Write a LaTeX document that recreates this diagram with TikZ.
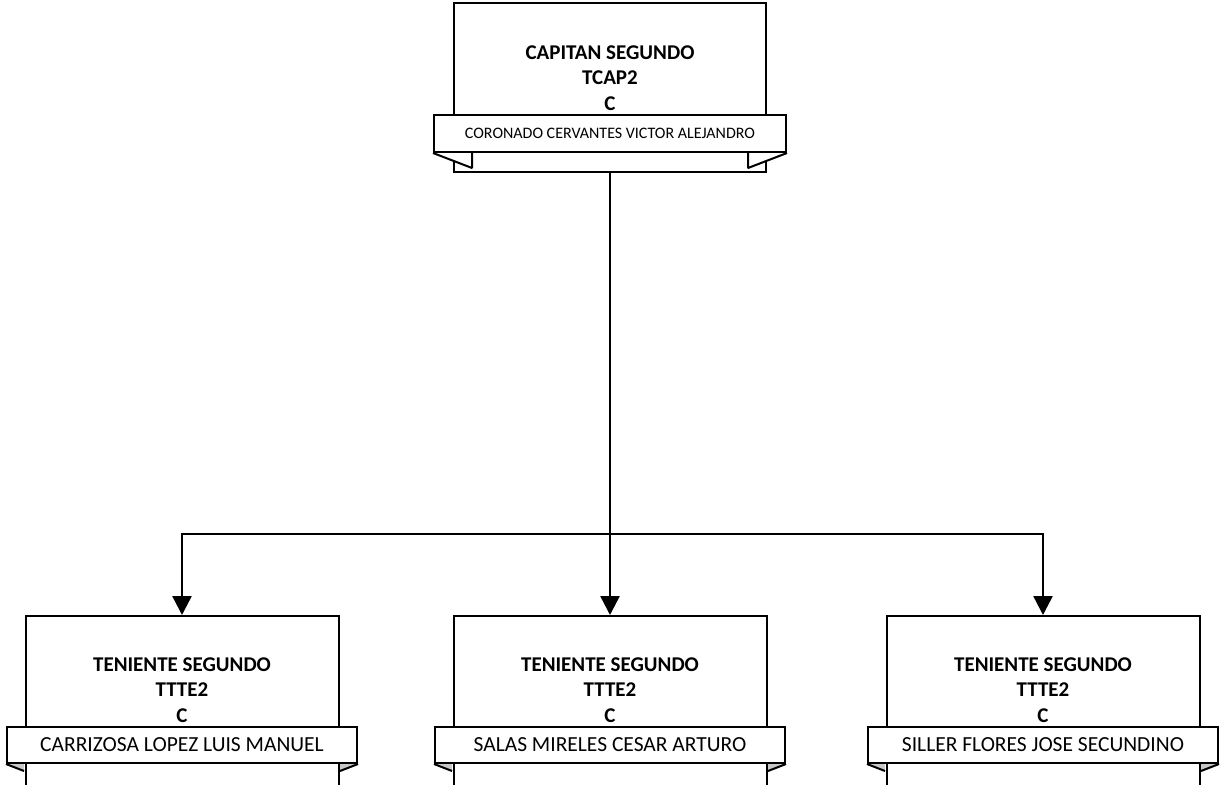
\documentclass[tikz,border=0pt]{standalone}
\usepackage{fontspec}
\setmainfont{Carlito}
\usetikzlibrary{arrows.meta}
\definecolor{foldgray}{HTML}{C8C8C8}
\begin{document}
\begin{tikzpicture}[x=1pt,y=-1pt,
  box/.style={draw, line width=2pt, fill=white, inner sep=0pt},
  banner/.style={draw, line width=2pt, fill=white, inner sep=0pt},
  title/.style={font=\bfseries\fontsize{21}{25.5}\selectfont, align=center, inner sep=0pt},
  topname/.style={font=\fontsize{16}{19}\selectfont},
  botname/.style={font=\fontsize{21.5}{24}\selectfont},
  fold/.style={draw, line width=2pt, line join=bevel},
  conn/.style={line width=2.5pt},
  arr/.style={conn, -{Triangle[width=19pt,length=19pt]}}]
\useasboundingbox (0,0) rectangle (1220,784);
\fill[white] (0,0) rectangle (1220,784);

% top box
\node[box, minimum width=312pt, minimum height=169pt] (top) at (610,87.5) {};
\node[title] (toptxt) at (610,78) {CAPITAN SEGUNDO\\TCAP2\\C};
\node[banner, minimum width=352pt, minimum height=37pt] (topban) at (610,133.5) {};
\draw[fold, fill=white] (topban.south west) -- ++(39,15) -- ++(0,-15);
\draw[fold, fill=white] (topban.south east) -- ++(-39,15) -- ++(0,-15);
\node[banner, minimum width=352pt, minimum height=37pt, topname] (topban2) at (610,133.5) {CORONADO CERVANTES VICTOR ALEJANDRO};

% bottom boxes
\foreach \n/\x/\name in {b1/182/CARRIZOSA LOPEZ LUIS MANUEL, b2/610/SALAS MIRELES CESAR ARTURO, b3/1043/SILLER FLORES JOSE SECUNDINO}{
  \node[box, minimum width=313pt, minimum height=184pt] (\n) at (\x,708) {};
  \node[title] (\n txt) at (\x,690) {TENIENTE SEGUNDO\\TTTE2\\C};
  \node[banner, minimum width=350pt, minimum height=36pt] (\n ban) at (\x,745) {};
  \fill[foldgray] (\n ban.south west) -- ++(18,7) -- ++(0,-7) -- cycle;
  \fill[foldgray] (\n ban.south east) -- ++(-18,7) -- ++(0,-7) -- cycle;
  \draw[fold] (\n ban.south west) -- ++(18,7);
  \draw[fold] (\n ban.south east) -- ++(-18,7);
  \node[banner, minimum width=350pt, minimum height=36pt, botname] (\n ban2) at (\x,745) {\name};
}

% connectors
\coordinate (j) at (610,534);
\draw[conn] (top.south) -- (j);
\draw[arr] (j) -| (b1.north);
\draw[arr] (j) -- (b2.north);
\draw[arr] (j) -| (b3.north);
\end{tikzpicture}
\end{document}
